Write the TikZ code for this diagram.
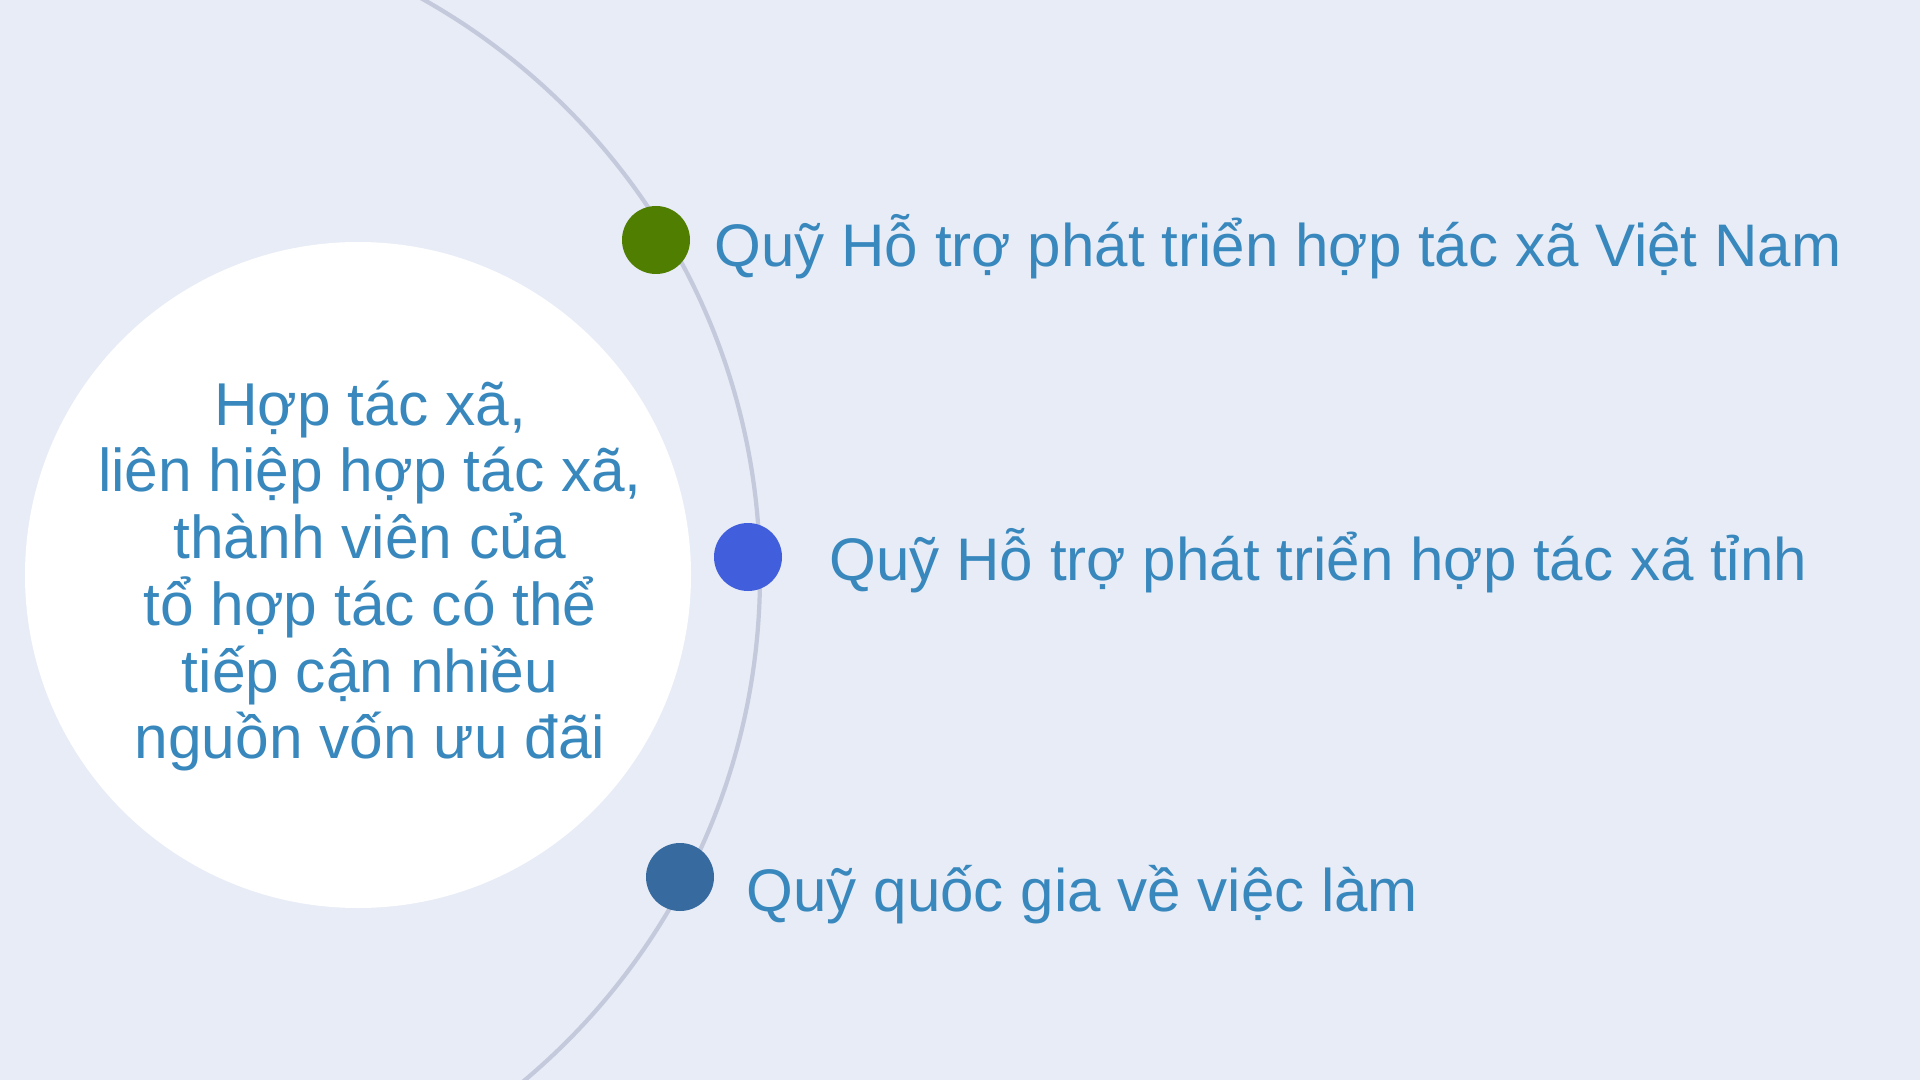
\documentclass[tikz,border=0pt]{standalone}
\usepackage{fontspec}
\setmainfont{Liberation Sans}
\definecolor{bgpale}{RGB}{232,236,246}
\definecolor{ringgray}{RGB}{196,201,220}
\definecolor{txtblue}{RGB}{56,136,190}
\definecolor{dotgreen}{RGB}{79,126,0}
\definecolor{dotblue}{RGB}{65,95,220}
\definecolor{dotnavy}{RGB}{55,106,158}
\tikzset{
  fundlabel/.style={anchor=base west, inner sep=0pt, text=txtblue, font=\fontsize{17.1}{19}\selectfont},
  funddot/.style={circle, minimum size=0.68cm, inner sep=0pt},
}

\begin{document}
\begin{tikzpicture}
			%%%%% START %%%%%
			
			\fill[bgpale] (0, 0) rectangle (19.2, -10.8);
			\useasboundingbox (0, 0) rectangle (19.2, -10.8);
			\clip (0, 0) rectangle (19.2, -10.8);
			
			\draw[line width=1.2pt, color=ringgray] (1.00, -5.75) circle (6.60);
			
			\fill[white] (3.58, -5.75) circle (3.33);
			\node[align=center, text=txtblue, font=\fontsize{17.2}{19}\selectfont] (coop) at (3.70, -5.76)
				{Hợp tác xã,\\liên hiệp hợp tác xã,\\thành viên của\\tổ hợp tác có thể\\tiếp cận nhiều\\nguồn vốn ưu đãi};
			
			\node[funddot, fill=dotgreen] (dotvn) at (6.56, -2.40) {};
			\node[funddot, fill=dotblue] (dotprov) at (7.48, -5.57) {};
			\node[funddot, fill=dotnavy] (dotjob) at (6.80, -8.77) {};
			
			\node[fundlabel] (fundvn) at (7.14, -2.67) {Quỹ Hỗ trợ phát triển hợp tác xã Việt Nam};
			\node[fundlabel] (fundprov) at (8.29, -5.80) {Quỹ Hỗ trợ phát triển hợp tác xã tỉnh};
			\node[fundlabel] (fundjob) at (7.46, -9.11) {Quỹ quốc gia về việc làm};
			
			%%%%% END %%%%%
\end{tikzpicture}
\end{document}
